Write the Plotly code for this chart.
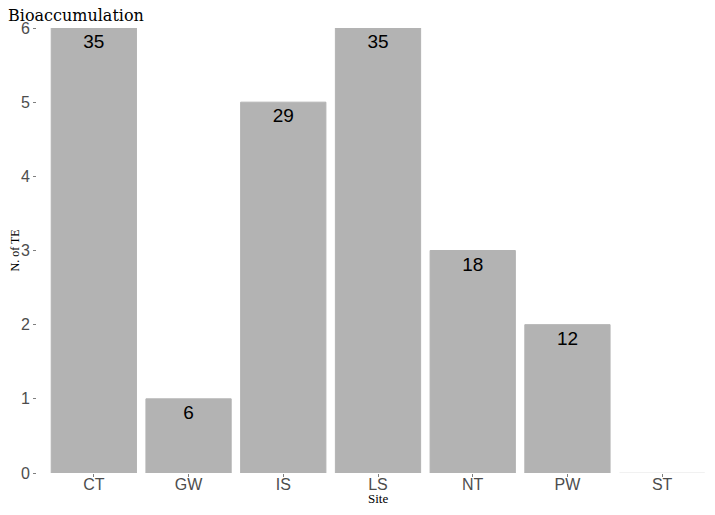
import plotly.graph_objects as go

# data
sites = ['CT', 'GW', 'IS', 'LS', 'NT', 'PW', 'ST']
n_te = [6, 1, 5, 6, 3, 2, 0]
bar_labels = ['35', '6', '29', '35', '18', '12', '']

BAR_GREY = '#B3B3B3'
TICK_GREY = '#4D4D4D'
SERIF = 'Liberation Serif, Times New Roman, serif'
SANS = 'Liberation Sans, Arial, sans-serif'

# the page body adds an 8px offset, margins allow for it
fig = go.Figure(go.Bar(
    x=sites,
    y=n_te,
    text=bar_labels,
    textposition='inside',
    insidetextanchor='end',
    constraintext='none',
    textangle=0,
    textfont={'family': SANS, 'size': 19, 'color': '#000000'},
    marker={'color': BAR_GREY,
            'line': {'width': 1, 'color': [BAR_GREY] * 6 + ['#ECECEC']}},
    width=0.9,
))

fig.update_layout(
    width=715,
    height=515,
    paper_bgcolor='#FFFFFF',
    plot_bgcolor='#FFFFFF',
    margin={'l': 29, 'r': 4, 't': 20, 'b': 50, 'pad': 0},
    showlegend=False,
    title={'text': 'Bioaccumulation', 'x': 0.0, 'xref': 'container', 'xanchor': 'left',
           'y': 0.998, 'yanchor': 'top', 'pad': {'t': 1, 'l': 0},
           'font': {'family': 'DejaVu Serif, serif', 'size': 16, 'color': '#000000'}},
    font={'family': SANS, 'color': TICK_GREY},
    annotations=[
        dict(text='Site', xref='paper', yref='paper', x=0.5, y=0, yshift=-25,
             xanchor='center', yanchor='middle', showarrow=False,
             font={'family': SERIF, 'size': 13, 'color': '#000000'}),
        dict(text='N. of TE', xref='paper', yref='paper', x=0, y=0.5, xshift=-23,
             xanchor='center', yanchor='middle', textangle=-90, showarrow=False,
             font={'family': SERIF, 'size': 12, 'color': '#000000'}),
    ],
)

fig.update_xaxes(
    range=[-0.6, 6.6],
    showgrid=False, zeroline=False, showline=False,
    ticks='outside', ticklen=3, tickcolor='#7F7F7F',
    ticklabelstandoff=-6,
    tickfont={'family': SANS, 'size': 16, 'color': TICK_GREY},
)
fig.update_yaxes(
    range=[0, 6],
    tickvals=[0, 1, 2, 3, 4, 5, 6],
    showgrid=False, zeroline=False, showline=False,
    ticks='outside', ticklen=3, tickcolor='#7F7F7F',
    tickfont={'family': SANS, 'size': 16, 'color': TICK_GREY},
)

fig.write_html('out.html')
